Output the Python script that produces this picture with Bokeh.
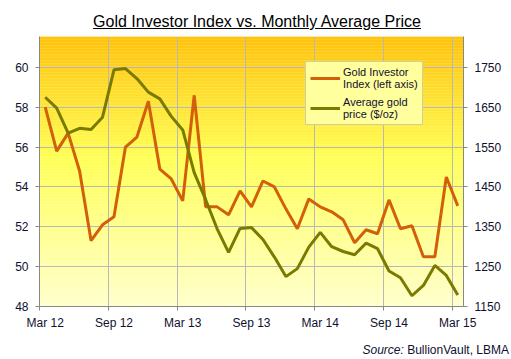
from bokeh.plotting import figure
from bokeh.models import (LinearAxis, Range1d, FixedTicker, Grid, Legend,
                          LegendItem, Div)
from bokeh.layouts import column
from bokeh.embed import file_html
from bokeh.resources import INLINE

# ---------------- data ----------------
months = ["Mar 12", "Apr 12", "May 12", "Jun 12", "Jul 12", "Aug 12",
          "Sep 12", "Oct 12", "Nov 12", "Dec 12", "Jan 13", "Feb 13",
          "Mar 13", "Apr 13", "May 13", "Jun 13", "Jul 13", "Aug 13",
          "Sep 13", "Oct 13", "Nov 13", "Dec 13", "Jan 14", "Feb 14",
          "Mar 14", "Apr 14", "May 14", "Jun 14", "Jul 14", "Aug 14",
          "Sep 14", "Oct 14", "Nov 14", "Dec 14", "Jan 15", "Feb 15",
          "Mar 15"]
investor_index = [58.0, 55.8, 56.7, 54.8, 51.3, 52.1, 52.5, 56.0, 56.5, 58.3,
                  54.9, 54.4, 53.3, 58.6, 53.0, 53.0, 52.6, 53.8, 53.0, 54.3,
                  54.0, 52.9, 51.9, 53.4, 53.0, 52.75, 52.35, 51.2, 51.85, 51.65,
                  53.35, 51.9, 52.05, 50.5, 50.5, 54.5, 53.05]
gold_price = [1675, 1648, 1585, 1597, 1594, 1625, 1744, 1747, 1722, 1688,
              1671, 1627, 1593, 1486, 1418, 1345, 1286, 1346, 1348, 1318,
              1274, 1225, 1245, 1299, 1336, 1300, 1288, 1280, 1309, 1295,
              1239, 1222, 1177, 1203, 1253, 1228, 1179]
tick_labels = ["Mar 12", "Sep 12", "Mar 13", "Sep 13", "Mar 14", "Sep 14", "Mar 15"]
left_ticks = [48, 50, 52, 54, 56, 58, 60]
right_ticks = [1150, 1250, 1350, 1450, 1550, 1650, 1750]

# ---------------- style ----------------
FONT = "Liberation Sans"
ORANGE = "#D2600A"
OLIVE = "#7A7A00"
AXIS = "#888888"
GRID = "#B8B8B8"
TXT = "#10102E"
W = 504

n = len(months)
x = [i + 0.5 for i in range(n)]
label_pos = [months.index(t) + 0.5 for t in tick_labels]
bound_pos = [months.index(t) for t in tick_labels]

lo, hi = 48, 61.55
p_lo = right_ticks[0]
scale = (right_ticks[-1] - right_ticks[0]) / (left_ticks[-1] - left_ticks[0])
p_hi = p_lo + scale * (hi - lo)

p = figure(width=W, height=301, output_backend="svg", toolbar_location=None,
           x_range=Range1d(0, n), y_range=Range1d(lo, hi),
           x_axis_location=None, y_axis_location=None,
           min_border_left=39, min_border_right=38, min_border_top=5,
           min_border_bottom=24, outline_line_color=None,
           background_fill_color="white", border_fill_color="white")
p.grid.visible = False
p.extra_y_ranges = {"price": Range1d(p_lo, p_hi)}

# gradient plot background (decoration)
def hex2rgb(h):
    return tuple(int(h[i:i + 2], 16) for i in (1, 3, 5))

stops = [(0.0, hex2rgb("#FFC20A")), (0.45, hex2rgb("#FFFF55")), (1.0, hex2rgb("#FFFFCC"))]

def col_at(t):
    for (t0, c0), (t1, c1) in zip(stops[:-1], stops[1:]):
        if t <= t1:
            f = (t - t0) / (t1 - t0)
            return "#%02x%02x%02x" % tuple(round(a + (b - a) * f) for a, b in zip(c0, c1))
    return "#%02x%02x%02x" % stops[-1][1]

NS = 90
bots, tops, cols = [], [], []
for k in range(NS):
    b = lo + (hi - lo) * k / NS
    t = lo + (hi - lo) * (k + 1) / NS
    bots.append(b)
    tops.append(t + 0.01)
    cols.append(col_at(1 - (k + 0.5) / NS))
p.quad(left=0, right=n, bottom=bots, top=tops, fill_color=cols,
       line_color=None, level="image")

# grids
p.add_layout(Grid(dimension=0, ticker=FixedTicker(ticks=bound_pos),
                  grid_line_color=GRID, grid_line_width=1))
p.add_layout(Grid(dimension=1, ticker=FixedTicker(ticks=left_ticks),
                  grid_line_color=GRID, grid_line_width=1))

# axes
common = dict(axis_line_color=AXIS, major_label_text_font=FONT,
              major_label_text_font_size="12px", major_label_text_color=TXT)

xaxis = LinearAxis(ticker=FixedTicker(ticks=label_pos, minor_ticks=bound_pos),
                   major_label_overrides={float(pos): lab for pos, lab in zip(label_pos, tick_labels)},
                   major_tick_out=0, major_tick_in=0,
                   minor_tick_out=4, minor_tick_in=0, minor_tick_line_color=AXIS,
                   major_label_standoff=5, **common)
p.add_layout(xaxis, "below")

yaxis = LinearAxis(ticker=FixedTicker(ticks=left_ticks), major_tick_out=4,
                   major_tick_in=0, major_tick_line_color=AXIS,
                   minor_tick_out=0, minor_tick_in=0,
                   major_label_standoff=7, **common)
p.add_layout(yaxis, "left")

raxis = LinearAxis(y_range_name="price", ticker=FixedTicker(ticks=right_ticks),
                   major_tick_out=4, major_tick_in=0, major_tick_line_color=AXIS,
                   minor_tick_out=0, minor_tick_in=0,
                   major_label_standoff=7, **common)
p.add_layout(raxis, "right")

# series
r1 = p.line(x, investor_index, line_color=ORANGE, line_width=3)
r2 = p.line(x, gold_price, y_range_name="price", line_color=OLIVE, line_width=3)

legend = Legend(items=[LegendItem(label="Gold Investor\nIndex (left axis)", renderers=[r1]),
                       LegendItem(label="Average gold\nprice ($/oz)", renderers=[r2])],
                location=(266, 181), margin=0, padding=4, spacing=6,
                glyph_width=30, glyph_height=12, label_standoff=3,
                label_text_font=FONT, label_text_font_size="11px",
                label_text_color=TXT, label_text_line_height=0.88,
                background_fill_color="#FFFF9E", background_fill_alpha=1.0,
                border_line_color="#A0A0A0", border_line_width=1)
p.add_layout(legend)

title = Div(text=('<div style="width:%dpx;padding-left:12px;text-align:center;'
                  'font-family:\'Liberation Sans\',Arial,sans-serif;font-size:16px;'
                  'line-height:18px;position:relative;top:8px;color:#000;'
                  'text-decoration:underline;">'
                  'Gold Investor Index vs. Monthly Average Price</div>') % (W - 12),
            width=W, height=21)
source = Div(text=('<div style="width:%dpx;text-align:right;'
                   'font-family:\'Liberation Sans\',Arial,sans-serif;font-size:12px;'
                   'line-height:14px;padding-top:6px;color:#10102E;">'
                   '<i>Source:</i> BullionVault, LBMA</div>') % W,
             width=W, height=21)

layout = column(title, p, source, spacing=0)
open("out.html", "w").write(file_html(layout, INLINE))
